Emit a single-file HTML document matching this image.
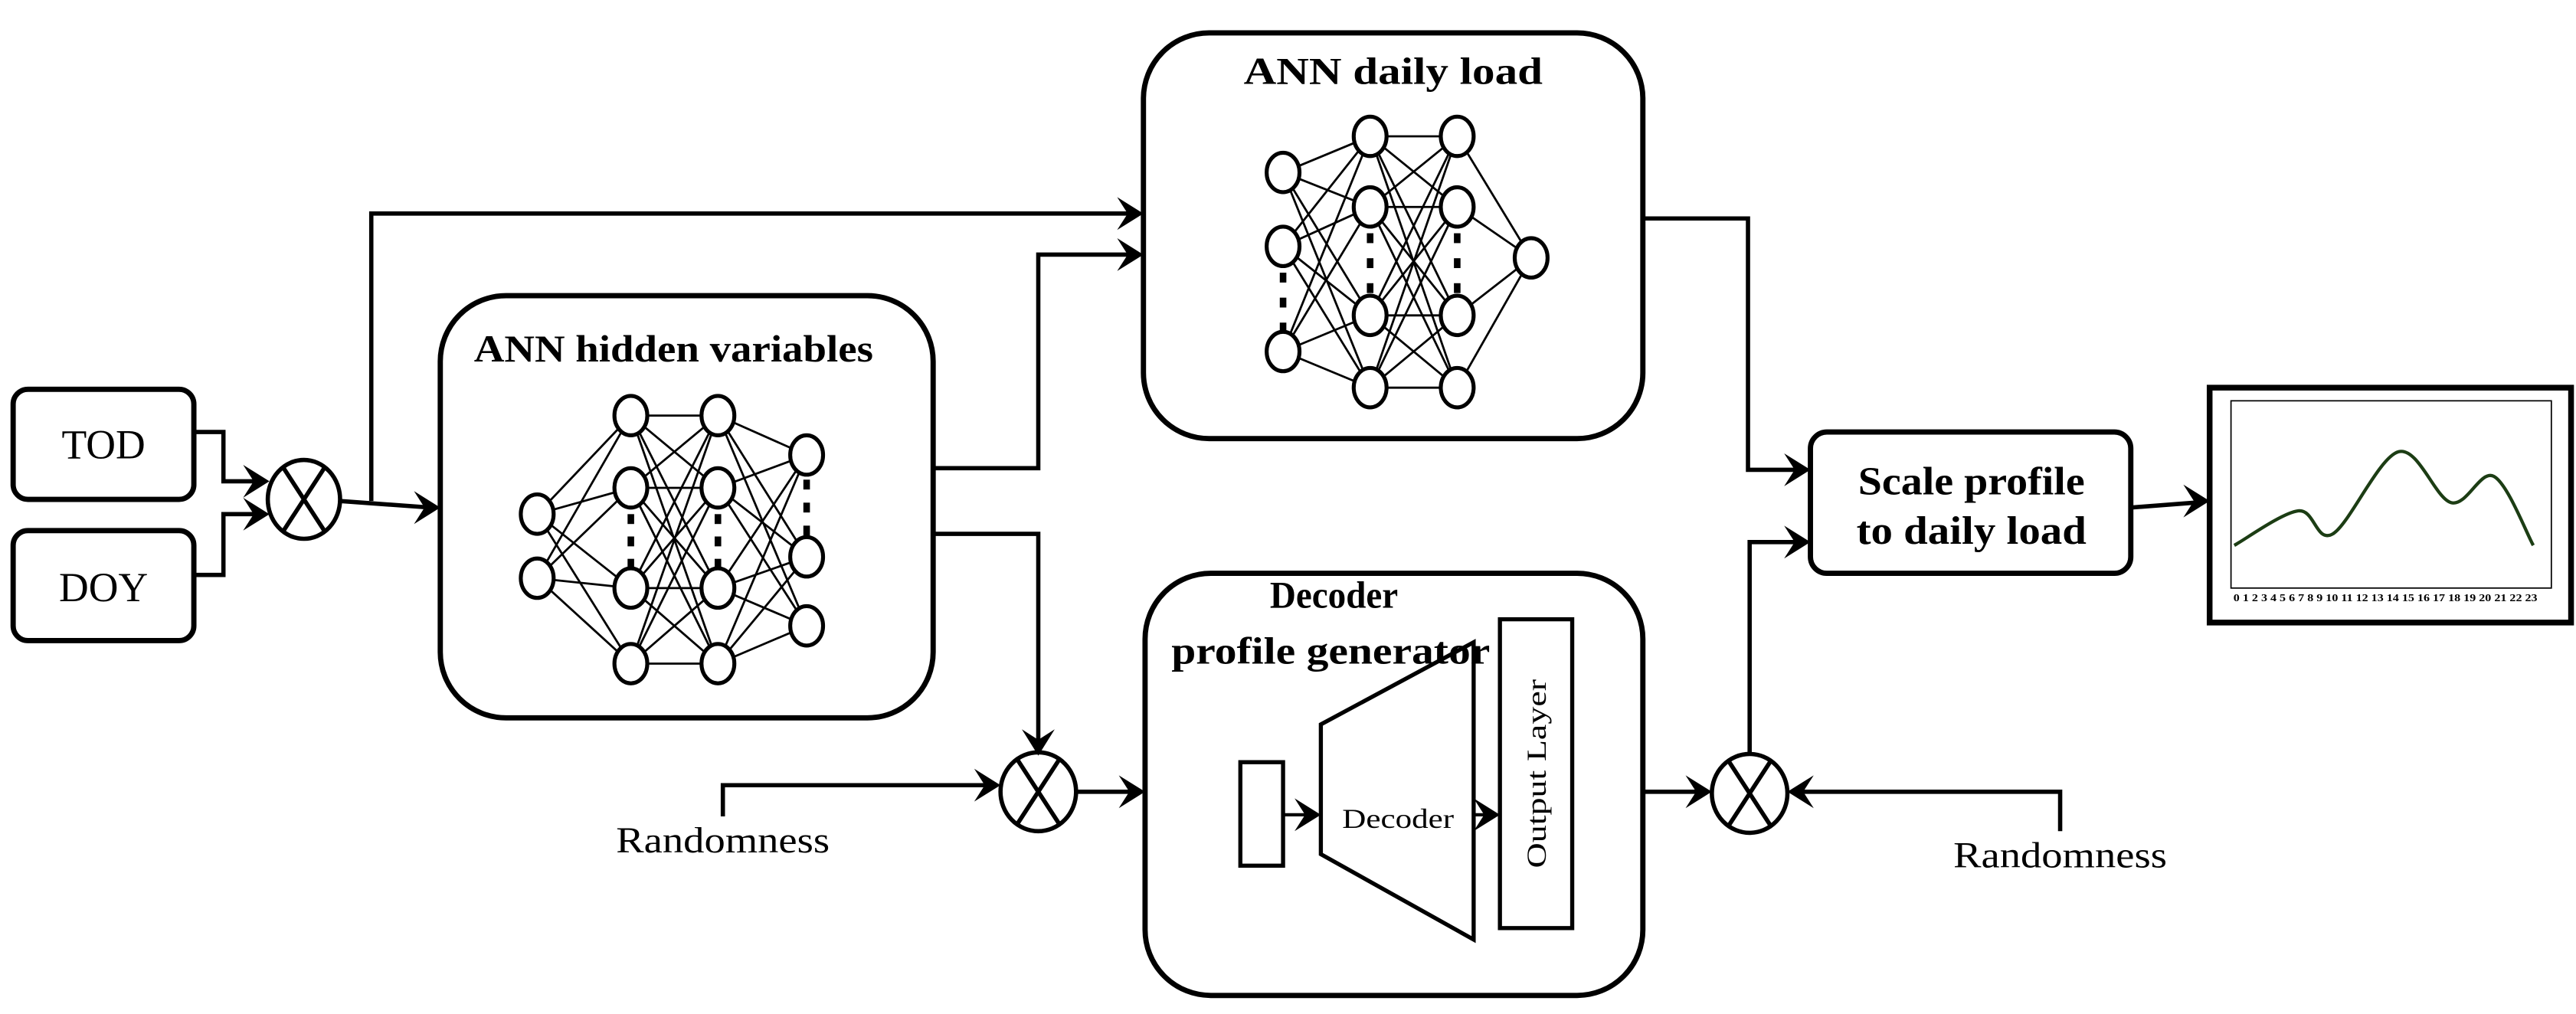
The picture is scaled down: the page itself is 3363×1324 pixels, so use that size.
<!DOCTYPE html>
<html><head><meta charset="utf-8">
<style>
html,body{margin:0;padding:0;background:#fff;}
svg{display:block;}
text{font-family:"Liberation Serif",serif;fill:#000;}
.b{font-weight:bold;}
</style></head>
<body>
<svg id="s" width="3363" height="1324" viewBox="0 0 1568 617.3" preserveAspectRatio="none" xmlns="http://www.w3.org/2000/svg">
<g fill="none" stroke="#000" stroke-width="3.2">
<rect x="8" y="237" width="110" height="67" rx="9"/>
<rect x="8" y="323" width="110" height="67" rx="9"/>
<rect x="268" y="180" width="300" height="257" rx="40"/>
<rect x="696" y="20" width="304" height="247" rx="40"/>
<rect x="697" y="349" width="303" height="257" rx="40"/>
<rect x="1102" y="263" width="195" height="86" rx="10"/>
<rect x="1345" y="236" width="220" height="143" stroke-width="3.5"/>
<rect x="1358" y="244" width="195" height="114" stroke-width="0.8"/>
<rect x="755" y="464" width="26" height="63" stroke-width="2.5"/>
<path d="M804,441 L897,391 L897,572 L804,520 Z" stroke-width="2.5"/>
<rect x="913" y="377" width="44" height="188" stroke-width="2.5"/>
</g>
<g fill="none" stroke="#000" stroke-width="2.6">
<polyline points="118,263 136,263 136,293 160,293"/>
<polyline points="118,350 136,350 136,313 160,313"/>
<polyline points="207,305 262,309"/>
<polyline points="226,305 226,130 690,130"/>
<polyline points="568,285 632,285 632,155 690,155"/>
<polyline points="568,325 632,325 632,455"/>
<polyline points="440,497 440,478 604,478"/>
<polyline points="655,482 692,482"/>
<polyline points="1000,133 1064,133 1064,286 1097,286"/>
<polyline points="1000,482 1037,482"/>
<polyline points="1065,460 1065,330 1097,330"/>
<polyline points="1254,506 1254,482 1093,482"/>
<polyline points="1297,309 1336,306"/>
<polyline points="781,496 800,496" stroke-width="2"/>
<polyline points="897,496 910,496" stroke-width="2"/>
<ellipse cx="185" cy="304" rx="22" ry="24"/>
<path d="M172,284 L198,324 M198,284 L172,324"/>
<ellipse cx="632" cy="482" rx="23" ry="24"/>
<path d="M619,462 L645,502 M645,462 L619,502"/>
<ellipse cx="1065" cy="483" rx="23" ry="24"/>
<path d="M1052,463 L1078,503 M1078,463 L1052,503"/>
</g>
<g id="arrows" fill="#000"></g>
<g id="nets"></g>
<path id="curve" fill="none" stroke="#1c3d14" stroke-width="2"/>
<text x="63" y="279" font-size="25" text-anchor="middle">TOD</text>
<text x="63" y="366" font-size="25" text-anchor="middle">DOY</text>
<text x="410" y="220" font-size="23" class="b" text-anchor="middle" textLength="243" lengthAdjust="spacingAndGlyphs">ANN hidden variables</text>
<text x="848" y="51" font-size="23" class="b" text-anchor="middle" textLength="182" lengthAdjust="spacingAndGlyphs">ANN daily load</text>
<text x="812" y="370" font-size="23" class="b" text-anchor="middle" textLength="78" lengthAdjust="spacingAndGlyphs">Decoder</text>
<text x="810" y="404" font-size="23" class="b" text-anchor="middle" textLength="194" lengthAdjust="spacingAndGlyphs">profile generator</text>
<text x="851" y="504" font-size="17" text-anchor="middle" textLength="68" lengthAdjust="spacingAndGlyphs">Decoder</text>
<text transform="translate(941,471) rotate(-90)" font-size="17" text-anchor="middle" textLength="115" lengthAdjust="spacingAndGlyphs">Output Layer</text>
<text x="1200" y="301" font-size="24" class="b" text-anchor="middle" textLength="138" lengthAdjust="spacingAndGlyphs">Scale profile</text>
<text x="1200" y="331" font-size="24" class="b" text-anchor="middle" textLength="140" lengthAdjust="spacingAndGlyphs">to daily load</text>
<text x="440" y="519" font-size="22" text-anchor="middle" textLength="130" lengthAdjust="spacingAndGlyphs">Randomness</text>
<text x="1254" y="528" font-size="22" text-anchor="middle" textLength="130" lengthAdjust="spacingAndGlyphs">Randomness</text>
<text x="1452" y="366" font-size="6.5" class="b" text-anchor="middle" textLength="185" lengthAdjust="spacingAndGlyphs">0 1 2 3 4 5 6 7 8 9 10 11 12 13 14 15 16 17 18 19 20 21 22 23</text>
</svg>
<script>
var NS="http://www.w3.org/2000/svg";
function el(p,t,a){var e=document.createElementNS(NS,t);for(var k in a)e.setAttribute(k,a[k]);p.appendChild(e);return e;}
var A=document.getElementById('arrows');
function arrow(x,y,dir){
  var L=16,W=10,p;
  if(dir=='r')p=[[x,y],[x-L,y-W],[x-L*0.6,y],[x-L,y+W]];
  if(dir=='l')p=[[x,y],[x+L,y-W],[x+L*0.6,y],[x+L,y+W]];
  if(dir=='d')p=[[x,y],[x-W,y-L],[x,y-L*0.6],[x+W,y-L]];
  el(A,'polygon',{points:p.map(function(q){return q.join(',')}).join(' ')});
}
arrow(164,293,'r');arrow(164,313,'r');arrow(268,309,'r');
arrow(696,130,'r');arrow(696,155,'r');arrow(632,460,'d');
arrow(609,478,'r');arrow(697,482,'r');arrow(1102,286,'r');
arrow(1042,482,'r');arrow(1102,330,'r');arrow(1088,482,'l');
arrow(1345,305,'r');arrow(804,496,'r');arrow(913,496,'r');
var N=document.getElementById('nets');
function net(layers){
  for(var i=0;i<layers.length-1;i++){
    var a=layers[i],b=layers[i+1];
    a.ys.forEach(function(y1){b.ys.forEach(function(y2){
      el(N,'line',{x1:a.x,y1:y1,x2:b.x,y2:y2,stroke:'#000','stroke-width':1.3});});});
  }
  layers.forEach(function(l){
    l.ys.forEach(function(y){el(N,'ellipse',{cx:l.x,cy:y,rx:10,ry:12,fill:'#fff',stroke:'#000','stroke-width':2.4});});
    if(l.dots){var d=l.dots;for(var k=0;k<3;k++){el(N,'rect',{x:l.x-2,y:d[0]+k*(d[1]-d[0])/2.5,width:4,height:6,fill:'#000'});}}
  });
}
net([{x:327,ys:[313,352]},{x:384,ys:[253,297,358,404],dots:[313,347]},{x:437,ys:[253,297,358,404],dots:[313,347]},{x:491,ys:[277,339,381],dots:[292,327]}]);
net([{x:781,ys:[105,150,214],dots:[166,204]},{x:834,ys:[83,126,192,236],dots:[142,180]},{x:887,ys:[83,126,192,236],dots:[142,180]},{x:932,ys:[157]}]);
var P=[[1360,332],[1399,311],[1420,325],[1460,275],[1492,306],[1518,290],[1542,332]];
var d="M"+P[0][0]+","+P[0][1];
for(var i=0;i<P.length-1;i++){
  var p0=P[i-1]||P[i],p1=P[i],p2=P[i+1],p3=P[i+2]||P[i+1];
  var c1=[p1[0]+(p2[0]-p0[0])/6,p1[1]+(p2[1]-p0[1])/6],c2=[p2[0]-(p3[0]-p1[0])/6,p2[1]-(p3[1]-p1[1])/6];
  d+=" C"+c1+" "+c2+" "+p2;
}
document.getElementById('curve').setAttribute('d',d);
</script>
</body></html>
